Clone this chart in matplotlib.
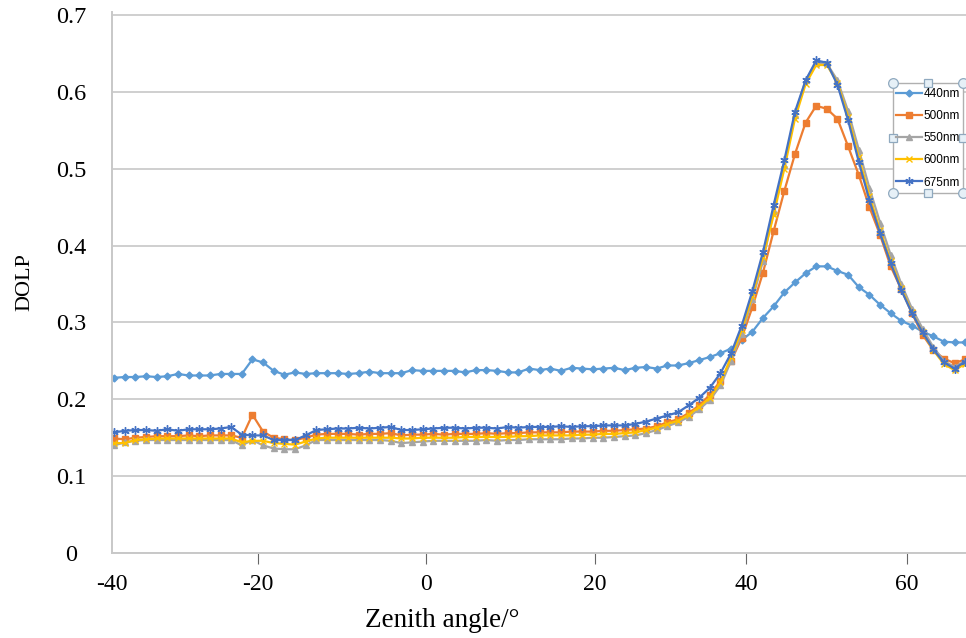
import numpy as np
import matplotlib
matplotlib.use("Agg")
import matplotlib.pyplot as plt
from matplotlib.patches import Rectangle

# DOLP, 81 samples along the zenith scan
dolp_440 = [0.228, 0.229, 0.229, 0.230, 0.229, 0.230, 0.233, 0.231, 0.231, 0.231,
            0.233, 0.233, 0.233, 0.252, 0.248, 0.237, 0.232, 0.235, 0.233, 0.234,
            0.234, 0.234, 0.233, 0.234, 0.236, 0.234, 0.234, 0.234, 0.238, 0.237,
            0.237, 0.237, 0.237, 0.235, 0.238, 0.238, 0.237, 0.235, 0.235, 0.240,
            0.238, 0.240, 0.237, 0.241, 0.240, 0.239, 0.240, 0.241, 0.238, 0.241,
            0.242, 0.240, 0.244, 0.244, 0.247, 0.251, 0.255, 0.260, 0.266, 0.277, 0.288,
            0.306, 0.321, 0.339, 0.352, 0.364, 0.373, 0.373, 0.367, 0.362, 0.346,
            0.336, 0.323, 0.312, 0.302, 0.296, 0.288, 0.282, 0.275, 0.274, 0.274]

dolp_500 = [0.149, 0.148, 0.150, 0.151, 0.152, 0.152, 0.152, 0.153, 0.152, 0.153,
            0.153, 0.153, 0.150, 0.180, 0.158, 0.150, 0.148, 0.147, 0.150, 0.154, 0.155,
            0.155, 0.155, 0.154, 0.155, 0.155, 0.156, 0.153, 0.154, 0.154, 0.155,
            0.154, 0.155, 0.155, 0.155, 0.156, 0.155, 0.156, 0.156, 0.157, 0.157,
            0.157, 0.157, 0.158, 0.158, 0.158, 0.159, 0.159, 0.160, 0.161, 0.162,
            0.165, 0.170, 0.174, 0.182, 0.192, 0.206, 0.224, 0.250, 0.280, 0.320,
            0.365, 0.419, 0.471, 0.519, 0.560, 0.582, 0.578, 0.565, 0.529, 0.492,
            0.450, 0.414, 0.373, 0.343, 0.312, 0.284, 0.264, 0.253, 0.247, 0.252]

dolp_550 = [0.140, 0.144, 0.146, 0.147, 0.147, 0.147, 0.147, 0.147, 0.147, 0.147,
            0.147, 0.147, 0.140, 0.147, 0.140, 0.136, 0.135, 0.135, 0.140, 0.147, 0.147,
            0.147, 0.147, 0.147, 0.147, 0.147, 0.146, 0.143, 0.144, 0.145, 0.146,
            0.146, 0.146, 0.146, 0.146, 0.147, 0.146, 0.147, 0.147, 0.148, 0.148,
            0.148, 0.148, 0.149, 0.149, 0.150, 0.150, 0.151, 0.152, 0.153, 0.156,
            0.160, 0.165, 0.170, 0.177, 0.187, 0.199, 0.218, 0.250, 0.285, 0.330,
            0.380, 0.445, 0.505, 0.570, 0.615, 0.638, 0.637, 0.615, 0.575, 0.525,
            0.475, 0.430, 0.388, 0.350, 0.318, 0.292, 0.268, 0.250, 0.242, 0.250]

dolp_600 = [0.143, 0.143, 0.147, 0.148, 0.149, 0.149, 0.149, 0.149, 0.149, 0.149,
            0.149, 0.149, 0.144, 0.146, 0.146, 0.143, 0.142, 0.141, 0.145, 0.149, 0.150,
            0.150, 0.150, 0.150, 0.150, 0.150, 0.150, 0.149, 0.149, 0.150, 0.150,
            0.150, 0.150, 0.151, 0.151, 0.151, 0.151, 0.151, 0.152, 0.152, 0.153,
            0.153, 0.153, 0.153, 0.154, 0.154, 0.155, 0.155, 0.156, 0.157, 0.160,
            0.163, 0.168, 0.172, 0.180, 0.190, 0.202, 0.222, 0.255, 0.290, 0.335,
            0.385, 0.440, 0.500, 0.565, 0.610, 0.635, 0.635, 0.612, 0.568, 0.515,
            0.465, 0.420, 0.380, 0.345, 0.313, 0.287, 0.264, 0.246, 0.238, 0.246]

dolp_675 = [0.157, 0.159, 0.160, 0.160, 0.159, 0.161, 0.159, 0.161, 0.161, 0.161,
            0.162, 0.164, 0.154, 0.153, 0.153, 0.147, 0.147, 0.147, 0.153, 0.160, 0.161,
            0.162, 0.162, 0.163, 0.162, 0.163, 0.164, 0.160, 0.160, 0.161, 0.162,
            0.163, 0.163, 0.162, 0.163, 0.163, 0.162, 0.164, 0.163, 0.164, 0.164,
            0.164, 0.165, 0.164, 0.165, 0.165, 0.166, 0.166, 0.166, 0.168, 0.171,
            0.175, 0.179, 0.183, 0.192, 0.202, 0.215, 0.234, 0.260, 0.296, 0.341,
            0.392, 0.453, 0.511, 0.574, 0.615, 0.641, 0.638, 0.609, 0.563, 0.509,
            0.459, 0.416, 0.377, 0.342, 0.312, 0.287, 0.265, 0.248, 0.240, 0.249]

wavelengths = ["440nm", "500nm", "550nm", "600nm", "675nm"]
colors = ["#5B9BD5", "#ED7D31", "#A5A5A5", "#FFC000", "#4472C4"]
markers = ["D", "s", "^", "x", (6, 2, 0)]
msizes = [3.5, 4.5, 4.5, 5, 6]

# the angle labels sit on a category axis (sample index)
angle_labels = ["-40", "-20", "0", "20", "40", "60"]
angle_label_pos = [-0.2, 13.5, 29.3, 45.2, 59.4, 74.5]

W, H = 966, 638
serif = "Liberation Serif"

fig = plt.figure(figsize=(W / 100, H / 100), dpi=100)
ax = fig.add_axes([112 / W, 1 - 553 / H, (W - 112) / W, (553 - 12) / H])

series = [dolp_440, dolp_500, dolp_550, dolp_600, dolp_675]
idx = np.arange(len(dolp_440))
handles = []
for vals, c, m, ms, lab in zip(series, colors, markers, msizes, wavelengths):
    h, = ax.plot(idx, vals, color=c, lw=1.6, marker=m, ms=ms, mew=1.0,
                 mfc=c, mec=c, label=lab)
    handles.append(h)

ax.set_xlim(-0.19, 80.08)
ax.set_ylim(0, 0.704)
ax.set_yticks(np.arange(0, 0.71, 0.1))
ax.set_yticklabels(["0", "0.1", "0.2", "0.3", "0.4", "0.5", "0.6", "0.7"])
ax.yaxis.grid(True, color="#cfcfcf", lw=1.4)
ax.set_axisbelow(True)
ax.tick_params(axis="y", length=0, pad=29.5, labelsize=17.5)
for t in ax.get_yticklabels():
    t.set_fontfamily(serif)
    t.set_horizontalalignment("center")

ax.set_xticks(angle_label_pos)
ax.set_xticklabels(angle_labels, fontfamily=serif, fontsize=17)
ax.tick_params(axis="x", direction="out", length=8, width=0.8, color="#666666", pad=7)
ax.xaxis.get_major_ticks()[0].tick1line.set_visible(False)

for side in ["top", "right"]:
    ax.spines[side].set_visible(False)
for side in ["left", "bottom"]:
    ax.spines[side].set_color("#c8c8c8")
    ax.spines[side].set_linewidth(1.4)

ax.set_xlabel("Zenith angle/°", fontfamily=serif, fontsize=19.5)
ax.xaxis.set_label_coords((442 - 112) / (W - 112), -0.102)
ax.set_ylabel("DOLP", fontfamily=serif, fontsize=16)
ax.yaxis.set_label_coords((34 - 112) / (W - 112), 0.5)

# overlay in pixel coordinates for the selected-legend frame
over = fig.add_axes([0, 0, 1, 1], facecolor="none")
over.set_xlim(0, W)
over.set_ylim(H, 0)
over.axis("off")
x0, x1, y0, y1 = 893, 963, 83, 193
over.add_patch(Rectangle((x0, y0), x1 - x0, y1 - y0, facecolor="white",
                         edgecolor="#b0b0b0", lw=1.0))
xm, ym = (x0 + x1) / 2, (y0 + y1) / 2
over.plot([x0, x1, x0, x1], [y0, y0, y1, y1], ls="none", marker="o", ms=7,
          mfc="#e6f0f7", mec="#8fa9bf", mew=0.9)
over.plot([xm, x0, x1, xm], [y0, ym, ym, y1], ls="none", marker="s", ms=5.5,
          mfc="#e6f0f7", mec="#8fa9bf", mew=0.9)

fig.legend(handles=handles, loc="upper left", bbox_to_anchor=(896 / W, 1 - 88 / H),
           frameon=False, borderpad=0, borderaxespad=0, handlelength=2.2,
           handletextpad=0.15, labelspacing=0.86, numpoints=1,
           prop={"family": "Liberation Sans", "size": 8.5})

fig.savefig("out.png", dpi=100)
